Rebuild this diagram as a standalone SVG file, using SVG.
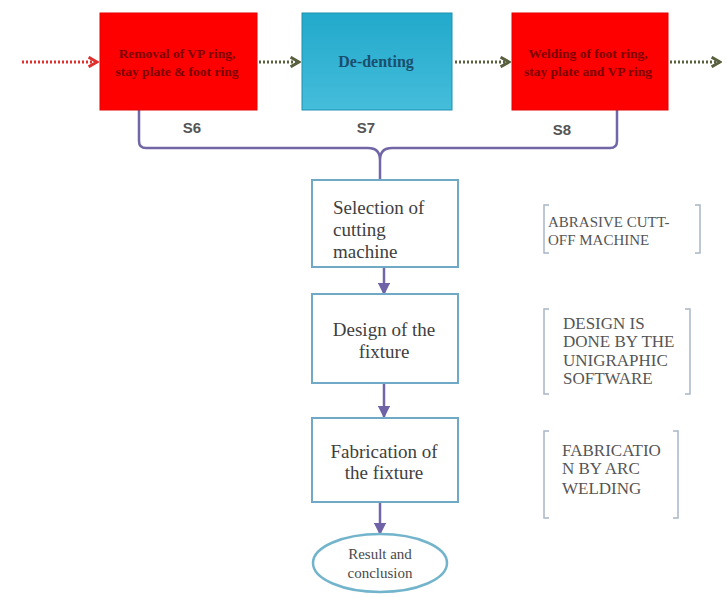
<svg xmlns="http://www.w3.org/2000/svg" width="727" height="598" viewBox="0 0 727 598">
<defs>
<linearGradient id="blueGrad" x1="0" y1="0" x2="0" y2="1">
<stop offset="0" stop-color="#22a9cb"/>
<stop offset="1" stop-color="#45bddb"/>
</linearGradient>
<marker id="arrPurple" viewBox="0 0 10 10" refX="9" refY="5" markerWidth="5" markerHeight="5" orient="auto">
<path d="M0,0 L10,5 L0,10 z" fill="#6f62a6"/>
</marker>
<marker id="chevRed" viewBox="0 0 10 10" refX="8" refY="5" markerWidth="4" markerHeight="4" orient="auto">
<path d="M1,1 L8,5 L1,9" fill="none" stroke="#e0302e" stroke-width="2.5"/>
</marker>
<marker id="chevOlive" viewBox="0 0 10 10" refX="8" refY="5" markerWidth="4" markerHeight="4" orient="auto">
<path d="M1,1 L8,5 L1,9" fill="none" stroke="#59603e" stroke-width="2.5"/>
</marker>
</defs>
<style>
.red{fill:#ff0000;stroke:#e60000;stroke-width:1}
.serif{font-family:'Liberation Serif','DejaVu Serif','Times New Roman',Times,serif}
.redtxt{font-size:13.5px;font-weight:bold;fill:#7a0000;text-anchor:middle}
.bluetxt{font-size:16px;font-weight:bold;fill:#1a4f6e;text-anchor:middle}
.slab{font-family:'Liberation Sans','DejaVu Sans',Arial,sans-serif;font-size:15px;font-weight:bold;fill:#555555;text-anchor:middle}
.box{fill:#ffffff;stroke:#6fa9c6;stroke-width:2}
.btxt{font-size:19px;fill:#404040}
.note{font-size:17px;fill:#555555}
.note1{font-size:15px;fill:#555555}
.res{font-size:15px;fill:#4a4a4a}
.brk{fill:none;stroke:#a9b7c7;stroke-width:1.5}
.conn{fill:none;stroke:#7266a6;stroke-width:2.5}
.vconn{fill:none;stroke:#7266a6;stroke-width:2.5;marker-end:url(#arrPurple)}
.dotr{fill:none;stroke:#e0302e;stroke-width:3;stroke-dasharray:2 2;marker-end:url(#chevRed)}
.doto{fill:none;stroke:#59603e;stroke-width:3;stroke-dasharray:2 2;marker-end:url(#chevOlive)}
</style>
<rect width="727" height="598" fill="#ffffff"/>

<g id="connectors">
<line class="dotr" x1="22" y1="62" x2="97" y2="62"/>
<line class="doto" x1="259" y1="62" x2="299" y2="62"/>
<line class="doto" x1="455" y1="62" x2="509" y2="62"/>
<line class="doto" x1="670" y1="62" x2="720" y2="62"/>
<path class="conn" d="M139,110 L139,141 Q139,148 146,148 L368,148 Q380,148 380,160 L380,179 M380,160 Q380,148 392,148 L610,148 Q617,148 617,141 L617,110"/>
<line class="vconn" x1="384" y1="267" x2="384" y2="294"/>
<line class="vconn" x1="384" y1="383" x2="384" y2="417"/>
<line class="vconn" x1="380" y1="502" x2="380" y2="534"/>
</g>

<g id="s6">
<rect class="red" x="100" y="13" width="157" height="97"/>
<text class="redtxt serif" x="177" y="58">Removal of VP ring,</text>
<text class="redtxt serif" x="177" y="76">stay plate &amp; foot ring</text>
<text class="slab" x="192" y="133">S6</text>
</g>
<g id="s7">
<rect x="302" y="13" width="150" height="97" fill="url(#blueGrad)" stroke="#1f8fb0" stroke-width="1"/>
<text class="bluetxt serif" x="376" y="67">De-denting</text>
<text class="slab" x="366" y="133">S7</text>
</g>
<g id="s8">
<rect class="red" x="512" y="13" width="156" height="97"/>
<text class="redtxt serif" x="588" y="58">Welding of foot ring,</text>
<text class="redtxt serif" x="588" y="76">stay plate and VP ring</text>
<text class="slab" x="562" y="135">S8</text>
</g>

<g id="selection" class="serif">
<rect class="box" x="312" y="180" width="146" height="87"/>
<text class="btxt" x="333" y="214">Selection of</text>
<text class="btxt" x="333" y="236">cutting</text>
<text class="btxt" x="333" y="258">machine</text>
</g>
<g id="design" class="serif">
<rect class="box" x="312" y="294" width="146" height="89"/>
<text class="btxt" x="384" y="336" text-anchor="middle">Design of the</text>
<text class="btxt" x="384" y="358" text-anchor="middle">fixture</text>
</g>
<g id="fabrication" class="serif">
<rect class="box" x="312" y="418" width="146" height="84"/>
<text class="btxt" x="384" y="458" text-anchor="middle">Fabrication of</text>
<text class="btxt" x="384" y="479" text-anchor="middle">the fixture</text>
</g>
<g id="result" class="serif">
<ellipse cx="380" cy="563" rx="67" ry="29" fill="#ffffff" stroke="#72b4cc" stroke-width="2.5"/>
<text class="res" x="380" y="559" text-anchor="middle">Result and</text>
<text class="res" x="380" y="578" text-anchor="middle">conclusion</text>
</g>

<g id="note1" class="serif">
<path class="brk" d="M549,205 L544,205 L544,253 L549,253 M695,205 L700,205 L700,253 L695,253"/>
<text class="note1" x="548" y="227">ABRASIVE CUTT-</text>
<text class="note1" x="548" y="245">OFF MACHINE</text>
</g>
<g id="note2" class="serif">
<path class="brk" d="M549,309 L544,309 L544,394 L549,394 M685,309 L690,309 L690,394 L685,394"/>
<text class="note" x="563" y="329">DESIGN IS</text>
<text class="note" x="563" y="347">DONE BY THE</text>
<text class="note" x="563" y="366">UNIGRAPHIC</text>
<text class="note" x="563" y="384">SOFTWARE</text>
</g>
<g id="note3" class="serif">
<path class="brk" d="M549,431 L544,431 L544,518 L549,518 M673,431 L678,431 L678,518 L673,518"/>
<text class="note" x="562" y="456">FABRICATIO</text>
<text class="note" x="562" y="474">N BY ARC</text>
<text class="note" x="562" y="494">WELDING</text>
</g>
</svg>
